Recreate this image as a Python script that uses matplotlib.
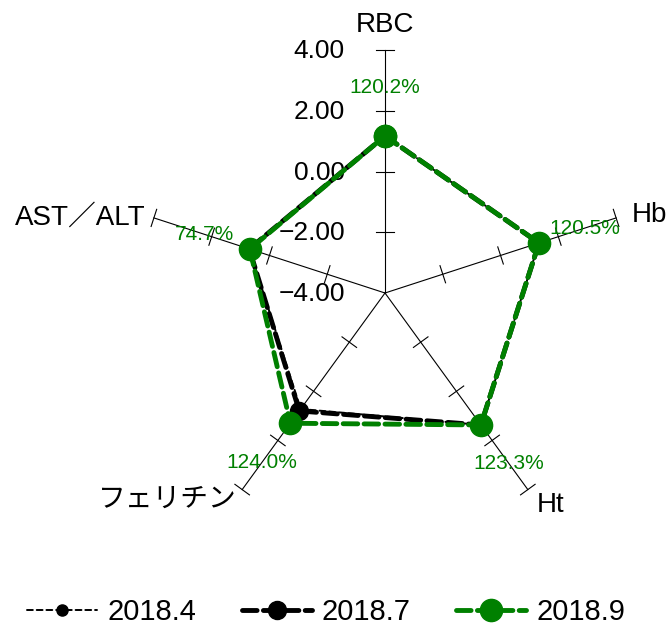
import numpy as np
import matplotlib.pyplot as plt

plt.rcParams['font.family'] = ['Liberation Sans', 'Noto Sans CJK JP', 'DejaVu Sans']

# 軸とデータ
labels = ["RBC", "Hb", "Ht", "フェリチン", "AST／ALT"]
series_names = ["2018.4", "2018.7", "2018.9"]
v_2018_4 = [1.17, 1.33, 1.37, 0.72, 0.70]
v_2018_7 = [1.17, 1.33, 1.37, 0.80, 0.70]
v_2018_9 = [1.17, 1.33, 1.37, 1.30, 0.68]
pct_labels = ["120.2%", "120.5%", "123.3%", "124.0%", "74.7%"]
ticks = [-4, -2, 0, 2, 4]

vmin, vmax = -4, 4
R = 243.0
cx, cy = 385, 293
ang = np.deg2rad(90 - 72 * np.arange(len(labels)))


def to_xy(vals, extra=0.0):
    r = (np.asarray(vals, float) - vmin) / (vmax - vmin) * R + extra
    return cx + r * np.cos(ang), cy - r * np.sin(ang)


fig = plt.figure(figsize=(6.71, 6.35), dpi=100)
ax = fig.add_axes([0, 0, 1, 1])
ax.set_xlim(0, 671)
ax.set_ylim(635, 0)
ax.axis('off')

# スポークと目盛り
for a in ang:
    ex, ey = cx + R * np.cos(a), cy - R * np.sin(a)
    ax.plot([cx, ex], [cy, ey], color='black', lw=0.8, zorder=1)
    px, py = -np.sin(a), -np.cos(a)
    for t in ticks[1:]:
        r = (t - vmin) / (vmax - vmin) * R
        tx, ty = cx + r * np.cos(a), cy - r * np.sin(a)
        ax.plot([tx - 9 * px, tx + 9 * px], [ty - 9 * py, ty + 9 * py],
                color='black', lw=0.8, zorder=1)

# 目盛りラベル (RBC軸)
for t in ticks:
    r = (t - vmin) / (vmax - vmin) * R
    ax.text(345, cy - r + 1, f"{t:.2f}".replace("-", "\u2212"), ha='right', va='center',
            fontsize=19, color='black')

# 軸ラベル
ax.text(cx, 25, labels[0], ha='center', va='center', fontsize=20)
ax.text(632, 215, labels[1], ha='left', va='center', fontsize=20)
ax.text(537, 505, labels[2], ha='left', va='center', fontsize=20)
ax.text(237, 500, labels[3], ha='right', va='center', fontsize=20)
ax.text(146, 218, labels[4], ha='right', va='center', fontsize=20)

# データ系列
styles = [
    dict(color='black', lw=1.4, ls=(0, (3, 2)), marker='o', ms=8),
    dict(color='black', lw=3.5, ls=(0, (3, 1.3)), marker='o', ms=13),
    dict(color='green', lw=3.5, ls=(0, (3, 1.3)), marker='o', ms=16),
]
for name, vals, st in zip(series_names, [v_2018_4, v_2018_7, v_2018_9], styles):
    x, y = to_xy(vals)
    x = np.append(x, x[0])
    y = np.append(y, y[0])
    ax.plot(x, y, label=name, zorder=3, dash_capstyle='round', **st)

# パーセントラベル
lx, ly = to_xy(v_2018_9, extra=48)
for i, s in enumerate(pct_labels):
    ax.text(lx[i], ly[i], s, ha='center', va='center', fontsize=15, color='green', zorder=4)

ax.legend(loc='center', bbox_to_anchor=(0.486, 1 - 612 / 635), ncol=3, frameon=False,
          fontsize=21, handlelength=2.4, handletextpad=0.35, columnspacing=1.55)

fig.savefig("out.png", dpi=100)
